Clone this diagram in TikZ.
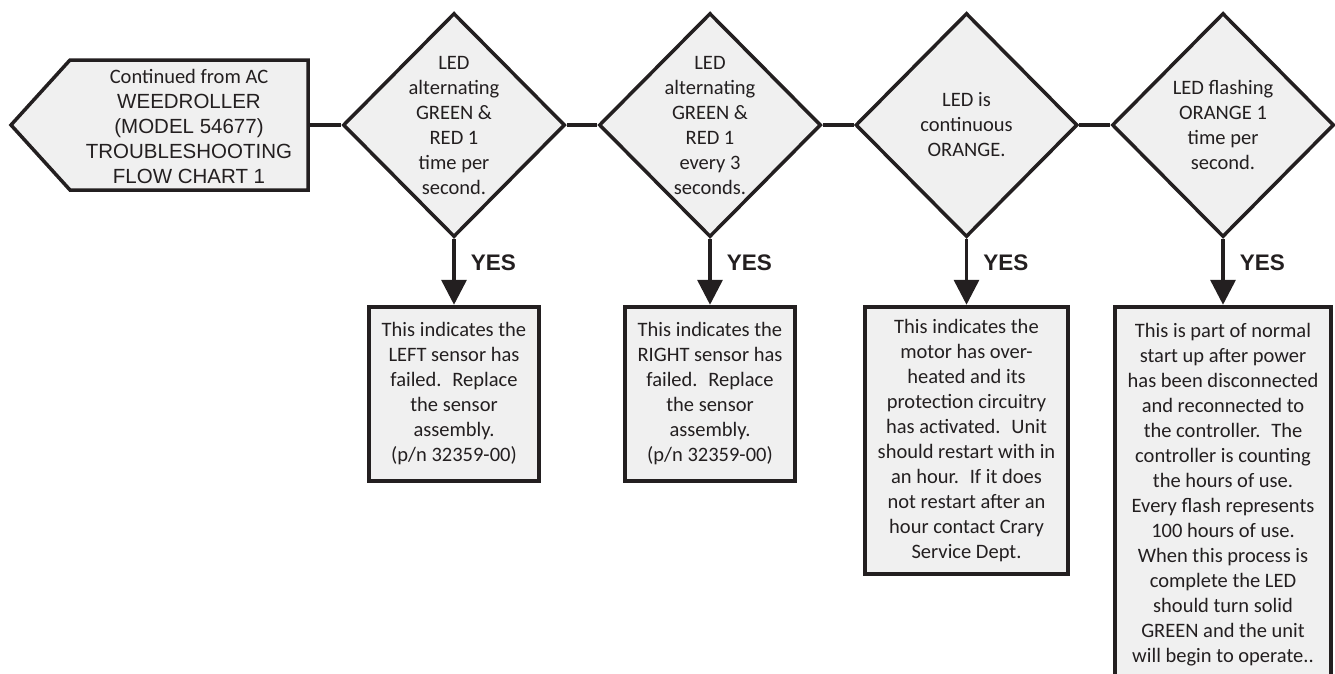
\documentclass[tikz,border=0pt]{standalone}
\usepackage{fontspec}
\setmainfont{Carlito}
\newfontfamily\arialfont{Liberation Sans}
\usetikzlibrary{arrows.meta,calc,positioning,shapes.geometric}
\definecolor{inkline}{RGB}{35,31,32}
\definecolor{boxfill}{RGB}{240,240,240}
\tikzset{
 flow/.style={draw=inkline,line width=3.5pt},
 decision/.style={diamond,draw=inkline,line width=3.5pt,fill=boxfill,minimum width=222pt,minimum height=224pt,inner sep=0},
 decisiontext/.style={align=center,inner sep=0,text=inkline,font=\fontsize{20.5}{25}\selectfont},
 starttext/.style={align=center,inner sep=0,text=inkline,font=\fontsize{20.5}{25}\selectfont},
 result/.style={rectangle,draw=inkline,line width=4pt,fill=boxfill,align=center,inner sep=0,text=inkline,font=\fontsize{20.5}{25}\selectfont},
 yesarrow/.style={flow,-{Triangle[length=25pt,width=25pt]}},
 yeslabel/.style={anchor=west,inner sep=0,text=inkline,font=\fontsize{22.5}{27}\arialfont\bfseries}
}

\begin{document}
\begin{tikzpicture}[x=1pt,y=-1pt]
\path[use as bounding box] (0,0) rectangle (1335,673);
\clip (0,0) rectangle (1335,673);
% start shape
\coordinate (tip) at (11,125);
\coordinate (startout) at (308,125);
\draw[flow,fill=boxfill] (tip) -- (70,60) -- (308,60) -- (308,190) -- (70,190) -- cycle;
\node[starttext] (start) at (189,126) {Continued from AC\\{\arialfont WEEDROLLER}\\{\arialfont (MODEL 54677)}\\{\arialfont TROUBLESHOOTING}\\{\arialfont FLOW CHART 1}};
% decisions
\node[decision] (d1) at (454,125) {};
\node[decisiontext] (d1txt) at (d1) {LED\\alternating\\GREEN \&\\RED 1\\time per\\second.};
\node[decision] (d2) at (710,125) {};
\node[decisiontext] (d2txt) at (d2) {LED\\alternating\\GREEN \&\\RED 1\\every 3\\seconds.};
\node[decision] (d3) at (966.5,125) {};
\node[decisiontext] (d3txt) at (d3) {LED is\\continuous\\ORANGE.};
\node[decision] (d4) at (1223,125) {};
\node[decisiontext] (d4txt) at (d4) {LED flashing\\ORANGE 1\\time per\\second.};
\draw[flow] (startout) -- (d1.west);
\draw[flow] (d1.east) -- (d2.west);
\draw[flow] (d2.east) -- (d3.west);
\draw[flow] (d3.east) -- (d4.west);
% results
\node[result,minimum width=170pt,minimum height=174pt,below=66pt of d1] (b1) {This indicates the\\LEFT sensor has\\failed.~ Replace\\the sensor\\assembly.\\(p/n 32359-00)};
\node[result,minimum width=170pt,minimum height=174pt,below=66pt of d2] (b2) {This indicates the\\RIGHT sensor has\\failed.~ Replace\\the sensor\\assembly.\\(p/n 32359-00)};
\node[result,minimum width=203pt,minimum height=267pt,below=66pt of d3] (b3) {This indicates the\\motor has over-\\heated and its\\protection circuitry\\has activated.~ Unit\\should restart with in\\an hour.~ If it does\\not restart after an\\hour contact Crary\\Service Dept.};
\node[result,minimum width=216pt,minimum height=375pt,below=66pt of d4] (b4) {This is part of normal\\start up after power\\has been disconnected\\and reconnected to\\the controller.~ The\\controller is counting\\the hours of use.\\Every flash represents\\100 hours of use.\\When this process is\\complete the LED\\should turn solid\\GREEN and the unit\\will begin to operate..};
\draw[yesarrow] (d1.south) -- node[yeslabel,pos=.37,xshift=15pt] (yes1) {YES} (b1.north);
\draw[yesarrow] (d2.south) -- node[yeslabel,pos=.37,xshift=15pt] (yes2) {YES} (b2.north);
\draw[yesarrow] (d3.south) -- node[yeslabel,pos=.37,xshift=15pt] (yes3) {YES} (b3.north);
\draw[yesarrow] (d4.south) -- node[yeslabel,pos=.37,xshift=15pt] (yes4) {YES} (b4.north);
\end{tikzpicture}
\end{document}
